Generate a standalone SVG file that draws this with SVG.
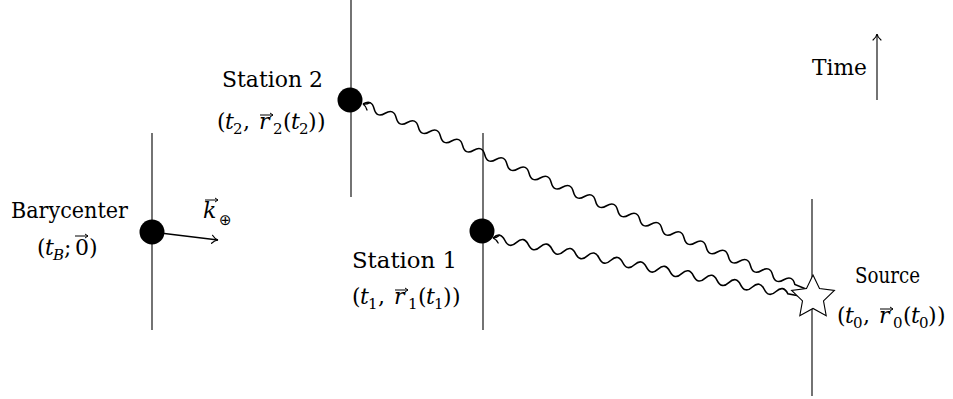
<svg xmlns="http://www.w3.org/2000/svg" width="953" height="399" viewBox="0 0 953 399">
<style>
  .t { font-family: 'DejaVu Serif', serif; font-size: 22px; fill: #000; }
  .i { font-style: italic; }
  .s { font-size: 15px; }
  .wl { fill: none; stroke: #000; stroke-width: 1.1; }
  .wave { fill: none; stroke: #000; stroke-width: 1.6; }
  .ah { fill: none; stroke: #000; stroke-width: 1.3; stroke-linecap: round; }
  .va { fill: none; stroke: #000; stroke-width: 1; }
  .dot { fill: #000; }
</style>
<defs>
  <marker id="to" markerUnits="userSpaceOnUse" markerWidth="14" markerHeight="14" viewBox="-8 -7 14 14" refX="0" refY="0" orient="auto" overflow="visible">
    <path d="M-6 -4 C-4 -1.5 -2 -0.4 0 0 C-2 0.4 -4 1.5 -6 4" fill="none" stroke="#000" stroke-width="1.2" stroke-linecap="round"/>
  </marker>
</defs>

<g id="worldlines">
  <line class="wl" x1="152" y1="133" x2="152" y2="330"/>
  <line class="wl" x1="351" y1="0" x2="351" y2="197"/>
  <line class="wl" x1="483" y1="133" x2="483" y2="330"/>
  <line class="wl" x1="812" y1="199" x2="812" y2="396"/>
</g>

<g id="connectors">
  <g transform="translate(363 104) rotate(22.67)">
    <path class="wave" d="M0 0 Q6 -8 12 0 T24 0 T36 0 T48 0 T60 0 T72 0 T84 0 T96 0 T108 0 T120 0 T132 0 T144 0 T156 0 T168 0 T180 0 T192 0 T204 0 T216 0 T228 0 T240 0 T252 0 T264 0 T276 0 T288 0 T300 0 T312 0 T324 0 T336 0 T348 0 T360 0 T372 0 T384 0 T396 0 T408 0 T420 0 T432 0 T444 0 T456 0 T468 0 L480 0"/>
    <path class="ah" d="M6 -4 C4 -1.5 2 -0.4 0 0 C2 0.4 4 1.5 6 4"/>
  </g>
  <g transform="translate(493 238) rotate(10.7)">
    <path class="wave" d="M0 0 Q6 -8 12 0 T24 0 T36 0 T48 0 T60 0 T72 0 T84 0 T96 0 T108 0 T120 0 T132 0 T144 0 T156 0 T168 0 T180 0 T192 0 T204 0 T216 0 T228 0 T240 0 T252 0 T264 0 T276 0 T288 0 T300 0 L312 0"/>
    <path class="ah" d="M6 -4 C4 -1.5 2 -0.4 0 0 C2 0.4 4 1.5 6 4"/>
  </g>
  <line x1="152" y1="232" x2="218" y2="240" stroke="#000" stroke-width="1.5" marker-end="url(#to)"/>
  <line x1="877" y1="100" x2="877" y2="34" stroke="#000" stroke-width="1.1" marker-end="url(#to)"/>
</g>

<g id="barycenter">
  <circle class="dot" cx="152" cy="232" r="12.5"/>
  <text class="t" x="11" y="218" textLength="117" lengthAdjust="spacingAndGlyphs">Barycenter</text>
  <text class="t" y="255"><tspan x="37">(</tspan><tspan x="45" class="i">t</tspan><tspan x="53" y="260" class="s i">B</tspan><tspan x="64" y="255">;</tspan><tspan x="75">0</tspan><tspan x="89">)</tspan></text>
  <path class="va" d="M75 236 H88 M85 234 L88 236 L85 238"/>
</g>

<g id="kvec">
  <text class="t i" x="203" y="218">k</text>
  <path class="va" d="M205 200 H218 M215 198 L218 200 L215 202"/>
  <text x="219" y="225" font-family="DejaVu Sans, sans-serif" font-size="15">⊕</text>
</g>

<g id="station2">
  <circle class="dot" cx="350" cy="100" r="12.5"/>
  <text class="t" x="222" y="87" textLength="101" lengthAdjust="spacingAndGlyphs">Station 2</text>
  <text class="t" y="129"><tspan x="217">(</tspan><tspan x="225" class="i">t</tspan><tspan x="233" y="134" class="s">2</tspan><tspan x="243" y="129">,</tspan><tspan x="259" class="i">r</tspan><tspan x="273" y="134" class="s">2</tspan><tspan x="283" y="129">(</tspan><tspan x="291" class="i">t</tspan><tspan x="299" y="134" class="s">2</tspan><tspan x="308" y="129">)</tspan><tspan x="317">)</tspan></text>
  <path class="va" d="M260 115 H273 M270 113 L273 115 L270 117"/>
</g>

<g id="station1">
  <circle class="dot" cx="482" cy="231" r="12.5"/>
  <text class="t" x="352" y="268" textLength="105" lengthAdjust="spacingAndGlyphs">Station 1</text>
  <text class="t" y="304"><tspan x="352">(</tspan><tspan x="360" class="i">t</tspan><tspan x="368" y="309" class="s">1</tspan><tspan x="378" y="304">,</tspan><tspan x="394" class="i">r</tspan><tspan x="408" y="309" class="s">1</tspan><tspan x="418" y="304">(</tspan><tspan x="426" class="i">t</tspan><tspan x="434" y="309" class="s">1</tspan><tspan x="443" y="304">)</tspan><tspan x="452">)</tspan></text>
  <path class="va" d="M395 290 H408 M405 288 L408 290 L405 292"/>
</g>

<g id="source">
  <polygon points="813,275 819.5,288.6 834.4,290.5 823.5,300.9 826.2,315.7 813,308.5 799.8,315.7 802.5,300.9 791.6,290.5 806.5,288.6" fill="#fff" stroke="#000" stroke-width="1.1" stroke-linejoin="miter"/>
  <text class="t" x="855" y="283" textLength="65" lengthAdjust="spacingAndGlyphs">Source</text>
  <text class="t" y="323"><tspan x="837">(</tspan><tspan x="845" class="i">t</tspan><tspan x="853" y="328" class="s">0</tspan><tspan x="863" y="323">,</tspan><tspan x="879" class="i">r</tspan><tspan x="893" y="328" class="s">0</tspan><tspan x="903" y="323">(</tspan><tspan x="911" class="i">t</tspan><tspan x="919" y="328" class="s">0</tspan><tspan x="928" y="323">)</tspan><tspan x="937">)</tspan></text>
  <path class="va" d="M880 309 H893 M890 307 L893 309 L890 311"/>
</g>

<g id="time">
  <text class="t" x="812" y="75" textLength="55" lengthAdjust="spacingAndGlyphs">Time</text>
</g>
</svg>
